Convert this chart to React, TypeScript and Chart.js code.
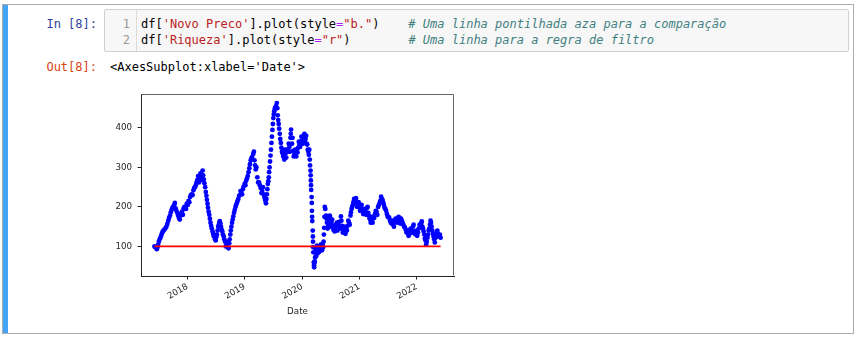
import React, { useEffect, useRef } from 'react';
import { Chart, registerables } from 'chart.js';

Chart.register(...registerables);

// ---- data ----
// 'Novo Preco': main readings along the trail
const precoDates = [
  '2017-06-05','2017-06-12','2017-06-20','2017-06-28','2017-07-08','2017-07-18','2017-07-28','2017-08-08','2017-08-20','2017-09-01',
  '2017-09-12','2017-09-22','2017-10-01','2017-10-09','2017-10-18','2017-10-28','2017-11-08','2017-11-18','2017-11-28','2017-12-08',
  '2017-12-18','2017-12-28','2018-01-08','2018-01-18','2018-01-28','2018-02-08','2018-02-18','2018-02-28','2018-03-10','2018-03-20',
  '2018-03-30','2018-04-08','2018-04-15','2018-04-24','2018-05-02','2018-05-09','2018-05-16','2018-05-24','2018-06-01','2018-06-10',
  '2018-06-18','2018-06-26','2018-07-04','2018-07-12','2018-07-20','2018-07-26','2018-08-03','2018-08-11','2018-08-20','2018-08-29',
  '2018-09-07','2018-09-16','2018-09-24','2018-10-01','2018-10-08','2018-10-16','2018-10-25','2018-11-03','2018-11-12','2018-11-21',
  '2018-12-01','2018-12-10','2018-12-20','2019-01-01','2019-01-10','2019-01-20','2019-01-30','2019-02-08','2019-02-16','2019-02-24',
  '2019-03-04','2019-03-12','2019-03-22','2019-04-02','2019-04-12','2019-04-22','2019-05-02','2019-05-10','2019-05-16','2019-05-22',
  '2019-05-28','2019-06-03','2019-06-08','2019-06-14','2019-06-20','2019-06-26','2019-07-02','2019-07-08','2019-07-15','2019-07-24',
  '2019-07-30','2019-08-05','2019-08-12','2019-08-19','2019-08-26','2019-09-03','2019-09-10','2019-09-18','2019-09-26','2019-10-04',
  '2019-10-12','2019-10-19','2019-10-23','2019-10-29','2019-11-05','2019-11-13','2019-11-21','2019-11-29','2019-12-07','2019-12-15',
  '2019-12-23','2020-01-01','2020-01-09','2020-01-16','2020-01-23','2020-01-30','2020-02-06','2020-02-13','2020-02-19','2020-02-24',
  '2020-02-26','2020-02-28','2020-03-02','2020-03-04','2020-03-06','2020-03-09','2020-03-11','2020-03-13','2020-03-16','2020-03-18',
  '2020-03-20','2020-03-24','2020-03-28','2020-04-02','2020-04-08','2020-04-14','2020-04-20','2020-04-27','2020-05-04','2020-05-11',
  '2020-05-17','2020-05-21','2020-05-25','2020-05-28','2020-06-02','2020-06-08','2020-06-15','2020-06-22','2020-06-29','2020-07-07',
  '2020-07-15','2020-07-23','2020-08-01','2020-08-10','2020-08-19','2020-08-28','2020-09-05','2020-09-12','2020-09-21','2020-09-30',
  '2020-10-09','2020-10-18','2020-10-27','2020-11-05','2020-11-12','2020-11-20','2020-11-28','2020-12-06','2020-12-14','2020-12-22',
  '2021-01-01','2021-01-10','2021-01-20','2021-01-30','2021-02-08','2021-02-18','2021-02-26','2021-03-06','2021-03-14','2021-03-22',
  '2021-03-31','2021-04-10','2021-04-20','2021-04-30','2021-05-10','2021-05-19','2021-05-28','2021-06-06','2021-06-15','2021-06-25',
  '2021-07-05','2021-07-15','2021-07-25','2021-08-04','2021-08-14','2021-08-24','2021-09-03','2021-09-13','2021-09-23','2021-10-03',
  '2021-10-13','2021-10-23','2021-11-02','2021-11-10','2021-11-18','2021-11-28','2021-12-08','2021-12-16','2021-12-26','2022-01-04',
  '2022-01-14','2022-01-24','2022-02-02','2022-02-10','2022-02-18','2022-02-26','2022-03-06','2022-03-14','2022-03-22','2022-03-30',
  '2022-04-06','2022-04-14','2022-04-22','2022-04-30','2022-05-08','2022-05-16','2022-05-24','2022-06-02',
];

const precoValues = [
  100, 97, 93, 104, 118, 127, 138, 143, 150, 165,
  178, 192, 200, 205, 196, 185, 172, 178, 188, 196,
  200, 208, 215, 225, 232, 242, 250, 262, 278, 272,
  277, 292, 270, 250, 228, 208, 188, 170, 152, 138,
  126, 118, 124, 140, 155, 164, 150, 138, 125, 112,
  104, 97, 108, 130, 150, 168, 185, 200, 210, 220,
  230, 238, 245, 259, 266, 278, 298, 318, 326, 334,
  318, 295, 275, 262, 248, 240, 232, 220, 209, 232,
  258, 275, 300, 330, 362, 395, 425, 442, 452, 463,
  432, 410, 385, 362, 340, 328, 320, 335, 345, 340,
  352, 375, 396, 360, 342, 332, 338, 345, 350, 358,
  365, 368, 375, 385, 372, 360, 345, 332, 320, 292,
  267, 243, 225, 190, 164, 140, 112, 85, 60, 47,
  58, 72, 88, 95, 82, 96, 100, 90, 98, 104,
  112, 147, 200, 195, 178, 160, 150, 165, 172, 160,
  152, 145, 148, 160, 152, 150, 176, 152, 142, 138,
  145, 152, 160, 178, 195, 205, 220, 215, 210, 205,
  200, 196, 193, 185, 188, 197, 185, 172, 160, 165,
  175, 182, 188, 200, 210, 226, 218, 205, 195, 182,
  175, 165, 158, 155, 162, 168, 172, 165, 170, 160,
  150, 142, 135, 127, 138, 142, 150, 138, 130, 127,
  145, 150, 163, 145, 130, 115, 112, 130, 145, 165,
  150, 132, 118, 122, 135, 132, 128, 122,
];

// 'Novo Preco': further readings of the same series (the spread of the dotted band)
const precoDatesExtra = [
  '2017-06-24','2017-07-03','2017-07-13','2017-07-23','2017-08-02','2017-08-14','2017-08-26','2017-09-06','2017-09-17','2017-09-27',
  '2017-10-05','2017-10-13','2017-10-23','2017-11-03','2017-11-13','2017-11-23','2017-12-03','2017-12-13','2017-12-23','2018-01-03',
  '2018-01-13','2018-01-23','2018-02-03','2018-02-13','2018-02-23','2018-03-05','2018-03-15','2018-03-25','2018-04-04','2018-04-11',
  '2018-04-19','2018-04-28','2018-05-05','2018-05-12','2018-05-20','2018-05-28','2018-06-05','2018-06-14','2018-06-22','2018-06-30',
  '2018-07-08','2018-07-16','2018-07-23','2018-07-30','2018-08-07','2018-08-15','2018-08-24','2018-09-02','2018-09-11','2018-09-20',
  '2018-09-27','2018-10-04','2018-10-12','2018-10-20','2018-10-29','2018-11-07','2018-11-16','2018-11-26','2018-12-05','2018-12-15',
  '2018-12-25','2019-01-05','2019-01-15','2019-01-25','2019-02-03','2019-02-12','2019-02-28','2019-03-08','2019-03-16','2019-03-27',
  '2019-04-07','2019-04-17','2019-04-27','2019-05-06','2019-05-13','2019-05-19','2019-05-25','2019-05-31','2019-06-05','2019-06-11',
  '2019-06-17','2019-06-23','2019-06-29','2019-07-05','2019-07-11','2019-07-19','2019-07-27','2019-08-02','2019-08-08','2019-08-15',
  '2019-08-22','2019-08-30','2019-09-14','2019-09-22','2019-10-08','2019-10-16','2019-10-21','2019-11-01','2019-11-09','2019-11-17',
  '2019-11-25','2019-12-03','2019-12-11','2019-12-19','2019-12-28','2020-01-05','2020-01-12','2020-01-20','2020-01-27','2020-02-03',
  '2020-02-10','2020-02-16','2020-02-21','2020-02-25','2020-02-27','2020-03-03','2020-03-05','2020-03-10','2020-03-12','2020-03-17',
  '2020-03-22','2020-03-26','2020-03-30','2020-04-05','2020-04-11','2020-04-17','2020-04-23','2020-05-01','2020-05-07','2020-05-14',
  '2020-05-19','2020-05-23','2020-06-05','2020-06-12','2020-06-19','2020-06-26','2020-07-03','2020-07-11','2020-07-19','2020-07-27',
  '2020-08-05','2020-08-14','2020-08-24','2020-09-01','2020-09-08','2020-09-17','2020-09-25','2020-10-04','2020-10-13','2020-10-22',
  '2020-10-31','2020-11-08','2020-11-16','2020-11-24','2020-12-02','2020-12-10','2020-12-18','2020-12-27','2021-01-05','2021-01-15',
  '2021-01-25','2021-02-03','2021-02-13','2021-02-22','2021-03-02','2021-03-10','2021-03-18','2021-03-26','2021-04-05','2021-04-15',
  '2021-04-25','2021-05-05','2021-05-14','2021-05-23','2021-06-01','2021-06-10','2021-06-20','2021-06-30','2021-07-10','2021-07-20',
  '2021-07-30','2021-08-09','2021-08-19','2021-08-29','2021-09-08','2021-09-18','2021-09-28','2021-10-08','2021-10-18','2021-10-28',
  '2021-11-06','2021-11-14','2021-11-23','2021-12-03','2021-12-12','2021-12-21','2021-12-31','2022-01-09','2022-01-19','2022-01-29',
  '2022-02-06','2022-02-14','2022-02-22','2022-03-02','2022-03-10','2022-03-18','2022-03-26','2022-04-02','2022-04-10','2022-04-18',
  '2022-04-26','2022-05-04','2022-05-12','2022-05-20','2022-05-28',
];

const precoValuesExtra = [
  98, 112, 122, 133, 140, 146, 157, 172, 186, 197,
  198, 210, 190, 178, 168, 184, 180, 200, 195, 205,
  212, 230, 230, 248, 255, 268, 262, 285, 268, 280,
  260, 238, 218, 198, 180, 160, 145, 132, 125, 115,
  130, 150, 160, 158, 142, 130, 118, 100, 110, 95,
  118, 140, 160, 176, 192, 205, 215, 228, 240, 232,
  252, 255, 272, 288, 308, 322, 340, 305, 300, 262,
  255, 235, 250, 225, 215, 220, 245, 265, 288, 315,
  345, 378, 410, 435, 448, 455, 450, 420, 398, 372,
  350, 335, 345, 325, 360, 340, 385, 375, 328, 345,
  328, 338, 365, 352, 378, 360, 382, 362, 380, 358,
  340, 345, 305, 280, 255, 210, 175, 125, 98, 52,
  62, 95, 75, 102, 90, 85, 95, 105, 90, 97,
  130, 175, 170, 145, 158, 178, 150, 168, 142, 138,
  155, 140, 162, 145, 165, 135, 150, 132, 140, 165,
  155, 186, 200, 212, 210, 222, 200, 212, 190, 205,
  182, 195, 180, 200, 178, 168, 175, 160, 172, 190,
  180, 205, 215, 220, 212, 198, 190, 175, 172, 160,
  165, 150, 170, 160, 175, 158, 165, 155, 148, 135,
  140, 130, 145, 135, 155, 132, 140, 135, 155, 158,
  150, 138, 120, 105, 122, 140, 155, 160, 140, 125,
  110, 128, 140, 125, 130,
];

// 'Riqueza': flat line
const riquezaDates = ['2017-06-05', '2022-06-02'];
const riquezaValues = [100, 100];

const xTickYears = [2018, 2019, 2020, 2021, 2022];
const yTickValues = [100, 200, 300, 400];
const xAxisLabel = 'Date';

const inPrompt = 'In [8]:';
const outPrompt = 'Out[8]:';
const outText = "<AxesSubplot:xlabel='Date'>";

// ---- helpers ----
function toYear(s: string): number {
  const [y, m, d] = s.split('-').map(Number);
  const t = Date.UTC(y, m - 1, d);
  const a = Date.UTC(y, 0, 1);
  const b = Date.UTC(y + 1, 0, 1);
  return y + (t - a) / (b - a);
}

const MONO = "'DejaVu Sans Mono', 'Liberation Mono', monospace";
const SANS = "'DejaVu Sans', sans-serif";
const AXIS_COLOR = '#262626';
const TICK_FONT = { family: SANS, size: 8.7 };

const framePlugin = {
  id: 'frame',
  afterDraw(chart: any) {
    const { ctx, chartArea } = chart;
    const l = Math.round(chartArea.left) + 0.5;
    const t = Math.round(chartArea.top) + 0.5;
    const r = Math.round(chartArea.right) - 0.5;
    const b = Math.round(chartArea.bottom) - 0.5;
    ctx.save();
    ctx.lineWidth = 1;
    ctx.strokeStyle = '#666';
    ctx.beginPath();
    ctx.moveTo(l, t);
    ctx.lineTo(r, t);
    ctx.lineTo(r, b);
    ctx.stroke();
    ctx.restore();
  },
};

function PlotCanvas() {
  const ref = useRef<HTMLCanvasElement | null>(null);
  useEffect(() => {
    if (!ref.current) return;
    const preco = precoDates
      .map((d, i) => ({ x: toYear(d), y: precoValues[i] }))
      .concat(precoDatesExtra.map((d, i) => ({ x: toYear(d), y: precoValuesExtra[i] })));
    const riqueza = riquezaDates.map((d, i) => ({ x: toYear(d), y: riquezaValues[i] }));
    const chart = new Chart(ref.current, {
      type: 'scatter',
      data: {
        datasets: [
          {
            label: 'Riqueza',
            data: riqueza,
            showLine: true,
            borderColor: '#ff0000',
            borderWidth: 1.6,
            pointRadius: 0,
            order: 0,
          },
          {
            label: 'Novo Preco',
            data: preco,
            showLine: false,
            pointRadius: 2.4,
            pointBackgroundColor: '#0000ff',
            pointBorderWidth: 0,
            borderColor: '#0000ff',
            order: 1,
          },
        ],
      },
      options: {
        responsive: false,
        animation: false,
        devicePixelRatio: 1,
        events: [],
        layout: { padding: { left: 0, top: 6, right: 18, bottom: 0 } },
        plugins: { legend: { display: false }, tooltip: { enabled: false } },
        scales: {
          x: {
            type: 'linear',
            min: 2017.19,
            max: 2022.65,
            afterBuildTicks: (s: any) => {
              s.ticks = xTickYears.map((v) => ({ value: v }));
            },
            afterFit: (s: any) => {
              s.height = 44;
              s.paddingLeft = 0;
              s.paddingRight = 0;
            },
            ticks: {
              autoSkip: false,
              minRotation: 30,
              maxRotation: 30,
              padding: 2,
              color: AXIS_COLOR,
              font: TICK_FONT,
              callback: (v: any) => String(v),
            },
            grid: {
              display: true,
              drawOnChartArea: false,
              drawTicks: true,
              tickLength: 3.5,
              color: AXIS_COLOR,
              lineWidth: 1,
            },
            border: { display: true, color: AXIS_COLOR, width: 1 },
            title: {
              display: true,
              text: xAxisLabel,
              color: AXIS_COLOR,
              font: TICK_FONT,
              padding: { top: 0, bottom: 3 },
            },
          },
          y: {
            type: 'linear',
            min: 25,
            max: 486,
            afterBuildTicks: (s: any) => {
              s.ticks = yTickValues.map((v) => ({ value: v }));
            },
            afterFit: (s: any) => {
              s.width = 41;
              s.paddingTop = 0;
              s.paddingBottom = 0;
            },
            ticks: {
              autoSkip: false,
              padding: 5.5,
              color: AXIS_COLOR,
              font: TICK_FONT,
              callback: (v: any) => String(v),
            },
            grid: {
              display: true,
              drawOnChartArea: false,
              drawTicks: true,
              tickLength: 3.5,
              color: AXIS_COLOR,
              lineWidth: 1,
            },
            border: { display: true, color: AXIS_COLOR, width: 1 },
          },
        },
      },
      plugins: [framePlugin],
    } as any);
    return () => chart.destroy();
  }, []);
  return (
    <canvas
      ref={ref}
      width={372}
      height={232}
      style={{ position: 'absolute', left: 100, top: 88, width: 372, height: 232 }}
    />
  );
}

const S_STR = { color: '#BA2121' };
const S_OP = { color: '#AA22FF' };
const S_CMT = { color: '#408080', fontStyle: 'italic' as const };

export default function App() {
  return (
    <div
      style={{
        position: 'absolute',
        left: 0,
        top: 0,
        width: 864,
        height: 339,
        background: '#fff',
        overflow: 'hidden',
        fontFamily: MONO,
        fontSize: 12,
        color: '#000',
      }}
    >
      {/* cell frame */}
      <div
        style={{
          position: 'absolute',
          left: 2,
          top: 4,
          width: 852,
          height: 330,
          border: '1px solid #ababab',
          boxSizing: 'border-box',
        }}
      />
      <div style={{ position: 'absolute', left: 3, top: 5, width: 5, height: 328, background: '#42A5F5' }} />

      {/* input prompt */}
      <div
        style={{
          position: 'absolute',
          left: 0,
          width: 97,
          top: 16,
          lineHeight: '16px',
          textAlign: 'right',
          color: '#303F9F',
          whiteSpace: 'pre',
        }}
      >
        {inPrompt}
      </div>

      {/* input area */}
      <div
        style={{
          position: 'absolute',
          left: 104,
          top: 9,
          width: 745,
          height: 43,
          background: '#f7f7f7',
          border: '1px solid #cfcfcf',
          borderRadius: 2,
          boxSizing: 'border-box',
        }}
      >
        <div
          style={{
            position: 'absolute',
            left: 0,
            top: 0,
            width: 32,
            height: '100%',
            borderRight: '1px solid #ddd',
            boxSizing: 'border-box',
          }}
        />
        <div
          style={{
            position: 'absolute',
            left: 0,
            width: 25,
            top: 6,
            lineHeight: '16px',
            textAlign: 'right',
            color: '#999',
            whiteSpace: 'pre',
          }}
        >
          <div>1</div>
          <div>2</div>
        </div>
        <div style={{ position: 'absolute', left: 36, top: 6, lineHeight: '16px', whiteSpace: 'pre' }}>
          <div>
            df[<span style={S_STR}>'Novo Preco'</span>].plot(style<span style={S_OP}>=</span>
            <span style={S_STR}>"b."</span>)    <span style={S_CMT}># Uma linha pontilhada aza para a comparação</span>
          </div>
          <div>
            df[<span style={S_STR}>'Riqueza'</span>].plot(style<span style={S_OP}>=</span>
            <span style={S_STR}>"r"</span>)        <span style={S_CMT}># Uma linha para a regra de filtro</span>
          </div>
        </div>
      </div>

      {/* output prompt */}
      <div
        style={{
          position: 'absolute',
          left: 0,
          width: 97,
          top: 59,
          lineHeight: '16px',
          textAlign: 'right',
          color: '#D84315',
          whiteSpace: 'pre',
        }}
      >
        {outPrompt}
      </div>
      <div style={{ position: 'absolute', left: 110, top: 59, lineHeight: '16px', whiteSpace: 'pre' }}>{outText}</div>

      <PlotCanvas />
    </div>
  );
}
